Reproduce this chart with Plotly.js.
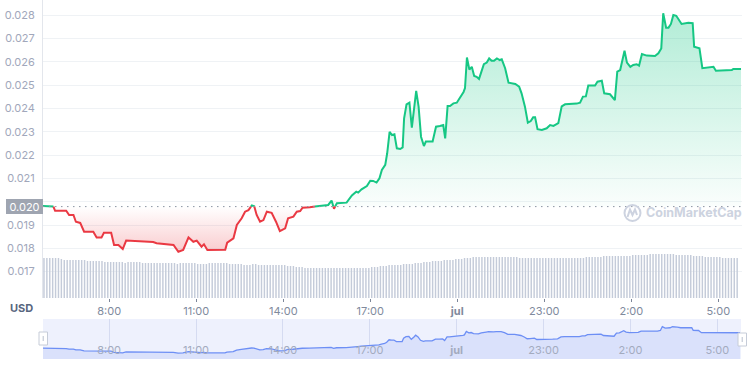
<!DOCTYPE html>
<html><head><meta charset="utf-8">
<script src="https://cdn.plot.ly/plotly-3.0.1.min.js"></script>
<style>html,body{margin:0;padding:0;background:#fff}#chart{width:756px;height:367px}</style>
</head><body><div id="chart"></div>
<script>
// ---------- data ----------
const day1 = '2022-06-30';
const day2 = '2022-07-01';
const timesDay1 = ['05:43','06:04','06:08','06:31','06:37','06:46','06:51','07:00','07:08','07:27',
'07:34','07:44','07:49','08:04','08:10','08:19','08:28','08:35','09:04','09:31',
'09:38','10:13','10:23','10:33','10:44','10:54','11:01','11:11','11:16','11:23',
'12:00','12:04','12:17','12:24','12:34','12:41','12:48','12:55','13:00','13:05',
'13:12','13:19','13:26','13:36','13:45','13:53','14:04','14:10','14:21','14:28',
'14:35','14:40','14:55','15:16','15:33','15:40','15:45','15:51','16:11','16:22',
'16:31','16:35','16:42','16:53','17:00','17:06','17:13','17:19','17:24','17:31',
'17:35','17:40','17:45','17:50','17:55','18:02','18:07','18:10','18:15','18:21',
'18:26','18:31','18:35','18:40','18:45','18:51','18:55','19:09','19:16','19:24',
'19:31','19:35','19:40','19:45','19:52','19:59','20:06','20:13','20:16','20:20',
'20:25','20:30','20:35','20:40','20:45','20:51','20:55','21:01','21:06','21:11',
'21:16','21:22','21:28','21:32','21:39','21:46','22:00','22:08','22:13','22:20',
'22:26','22:32','22:37','22:41','22:46','22:55','23:05','23:12','23:19','23:29',
'23:36','23:43','23:53'];
const timesDay2 = ['00:07','00:14','00:20','00:26','00:31','00:45','00:50','00:59','01:04','01:16',
'01:26','01:31','01:37','01:46','01:51','01:58','02:04','02:11','02:16','02:22',
'02:32','02:49','02:56','03:02','03:06','03:12','03:17','03:22','03:27','03:33',
'03:37','03:44','03:58','04:07','04:10','04:21','04:27','04:36','04:50','04:55',
'05:07','05:28','05:31','05:47'];
const prices = [0.01982,0.01982,0.01961,0.01961,0.01943,0.01943,0.01914,0.01909,0.01871,0.01871,
0.01846,0.01846,0.01867,0.01867,0.01814,0.01814,0.01797,0.01833,0.01831,0.01827,
0.01822,0.01814,0.01785,0.01793,0.01847,0.01828,0.01833,0.01807,0.01817,0.01793,
0.01794,0.01824,0.01843,0.01900,0.01929,0.01957,0.01964,0.01984,0.01980,0.01943,
0.01914,0.01921,0.01957,0.01952,0.01914,0.01874,0.01886,0.01929,0.01936,0.01957,
0.01960,0.01974,0.01976,0.01982,0.01986,0.02005,0.01970,0.01993,0.01996,0.02027,
0.02043,0.02039,0.02053,0.02067,0.02090,0.02089,0.02082,0.02100,0.02136,0.02158,
0.02208,0.02300,0.02286,0.02289,0.02229,0.02226,0.02233,0.02358,0.02418,0.02425,
0.02318,0.02401,0.02476,0.02408,0.02279,0.02239,0.02258,0.02258,0.02322,0.02325,
0.02329,0.02272,0.02411,0.02411,0.02422,0.02425,0.02447,0.02471,0.02488,0.02619,
0.02567,0.02579,0.02540,0.02536,0.02527,0.02565,0.02590,0.02597,0.02615,0.02605,
0.02605,0.02615,0.02608,0.02611,0.02573,0.02511,0.02505,0.02494,0.02465,0.02408,
0.02339,0.02346,0.02362,0.02362,0.02311,0.02308,0.02315,0.02329,0.02325,0.02337,
0.02409,0.02418,0.02418,0.02421,0.02425,0.02451,0.02452,0.02499,0.02499,0.02515,
0.02519,0.02465,0.02461,0.02436,0.02558,0.02565,0.02648,0.02597,0.02579,0.02587,
0.02590,0.02584,0.02634,0.02627,0.02625,0.02637,0.02658,0.02809,0.02747,0.02747,
0.02763,0.02801,0.02798,0.02787,0.02763,0.02768,0.02766,0.02665,0.02658,0.02573,
0.02575,0.02579,0.02562,0.02562,0.02565,0.02570,0.02570];
const baseline = 0.01979;
const baselineText = '0.020';
const volumeStart = '2022-06-30 05:45';
const volumeStepMinutes = 6;
const volumes = [
40,40,40,40,40,40,39,38,38,38,38,38,38,38,38,37,37,37,37,37,
37,36,36,36,36,36,36,36,35,36,36,36,36,36,35,35,35,35,35,35,
35,35,35,35,35,35,34,35,35,35,35,35,35,34,34,34,34,35,35,35,
35,35,35,35,34,34,34,34,34,33,33,33,34,34,33,33,33,33,33,33,
33,33,33,33,32,32,32,31,31,31,30,30,30,30,30,30,30,30,30,30,
30,30,30,30,30,30,30,30,30,30,30,30,30,31,31,31,32,32,32,33,
33,33,33,33,34,34,34,34,35,35,35,36,36,36,37,37,37,37,38,38,
38,38,39,39,39,40,40,40,41,41,41,41,41,41,41,41,41,41,41,41,
41,41,41,41,40,40,40,40,40,40,40,40,40,40,40,40,40,40,40,40,
40,40,40,40,40,40,40,41,41,41,41,41,41,42,42,42,42,42,42,42,
42,42,42,43,43,43,43,43,43,44,44,44,44,44,44,44,44,44,43,43,
43,43,43,43,42,42,42,42,41,41,41,41,41,41,40,40,40,40,40,40];
const tickTimes = ['2022-06-30 08:00','2022-06-30 11:00','2022-06-30 14:00','2022-06-30 17:00',
'2022-06-30 20:00','2022-06-30 23:00','2022-07-01 02:00','2022-07-01 05:00'];
const tickLabels = ['8:00','11:00','14:00','17:00','<b>jul</b>','23:00','2:00','5:00'];
const yTicks = [0.017,0.018,0.019,0.020,0.021,0.022,0.023,0.024,0.025,0.026,0.027,0.028];
const xRange = ['2022-06-30 05:43','2022-07-01 05:49'];
const yRange = [0.015867, 0.028657];
const navRange = [0.0156, 0.0310];

// ---------- build ----------
const ms = s => Date.parse(s.replace(' ', 'T') + ':00Z');
const times = timesDay1.map(t => ms(day1 + ' ' + t)).concat(timesDay2.map(t => ms(day2 + ' ' + t)));
const volTimes = volumes.map((v, i) => ms(volumeStart) + i * volumeStepMinutes * 60000);
// the tick under the baseline box is covered by the box in the reference
const yTickText = yTicks.map(v => v.toFixed(3) === baselineText ? '' : v.toFixed(3));

// add baseline crossing points so line colour / fill switch exactly at the baseline
const X = [], Y = [];
for (let i = 0; i < prices.length; i++) {
  X.push(times[i]); Y.push(prices[i]);
  if (i < prices.length - 1) {
    const a = prices[i] - baseline, b = prices[i + 1] - baseline;
    if (a * b < 0) {
      const f = a / (a - b);
      X.push(times[i] + f * (times[i + 1] - times[i])); Y.push(baseline);
    }
  }
}
const up = Y.map(v => Math.max(v, baseline));
const dn = Y.map(v => Math.min(v, baseline));
const gLine = Y.map(v => v >= baseline ? v : null);
const rLine = Y.map(v => v <= baseline ? v : null);
const base = Y.map(() => baseline);
const pMax = Math.max(...prices), pMin = Math.min(...prices);

const GREEN = '#16c784', RED = '#ea3943';
const traces = [
  {type:'bar', x: volTimes, y: volumes, xaxis:'x', yaxis:'y2', marker:{color:'#c4cbd9', line:{width:0}},
   width: volumeStepMinutes * 60000 * 0.5, hoverinfo:'skip'},
  {type:'scatter', mode:'lines', x: X, y: base, line:{width:0, color:'rgba(0,0,0,0)'}, hoverinfo:'skip'},
  {type:'scatter', mode:'lines', x: X, y: up, line:{width:0, color:'rgba(0,0,0,0)'}, fill:'tonexty',
   fillgradient:{type:'vertical', start: baseline, stop: pMax,
     colorscale:[[0,'rgba(22,199,132,0.02)'],[1,'rgba(22,199,132,0.33)']]}, hoverinfo:'skip'},
  {type:'scatter', mode:'lines', x: X, y: base, line:{width:0, color:'rgba(0,0,0,0)'}, hoverinfo:'skip'},
  {type:'scatter', mode:'lines', x: X, y: dn, line:{width:0, color:'rgba(0,0,0,0)'}, fill:'tonexty',
   fillgradient:{type:'vertical', start: pMin, stop: baseline,
     colorscale:[[0,'rgba(234,57,67,0.26)'],[1,'rgba(234,57,67,0.0)']]}, hoverinfo:'skip'},
  {type:'scatter', mode:'lines', x: X, y: gLine, line:{color: GREEN, width:2}, connectgaps:false},
  {type:'scatter', mode:'lines', x: X, y: rLine, line:{color: RED, width:2}, connectgaps:false},
  {type:'scatter', mode:'lines', x: times, y: prices, xaxis:'x2', yaxis:'y3',
   line:{color:'#6d8ff5', width:1.3}, fill:'tozeroy', fillcolor:'#dae1fb'}
];

const pxX = p => (p - 43) / 699;
const pxY = p => (359 - p) / 359;
const mainDomain = [pxY(298), 1];
const navDomain = [0, pxY(319)];

const axisFont = {family:'Inter, sans-serif', size:11, color:'#808a9d'};
const layout = {
  width:756, height:367, margin:{l:43, r:14, t:0, b:8},
  paper_bgcolor:'#ffffff', plot_bgcolor:'rgba(0,0,0,0)', showlegend:false,
  font:{family:'Inter, sans-serif', size:11, color:'#808a9d'},
  xaxis:{type:'date', range: xRange.map(ms), domain:[0,1], anchor:'y',
    tickmode:'array', tickvals: tickTimes.map(ms), ticktext: tickLabels,
    ticks:'outside', ticklen:3, tickcolor:'#7d8699', showgrid:false, zeroline:false, showline:false,
    tickfont: axisFont},
  yaxis:{domain: mainDomain, range: yRange, tickmode:'array', tickvals: yTicks, ticktext: yTickText,
    showgrid:true, gridcolor:'#eff2f5', gridwidth:1, zeroline:false,
    showline:true, linecolor:'#e3e6ec', linewidth:1,
    ticks:'outside', ticklen:5, tickcolor:'rgba(0,0,0,0)',
    tickfont:{family:'Inter, sans-serif', size:11, color:'#a1a7bb'}},
  yaxis2:{overlaying:'y', range:[0, 298], visible:false, fixedrange:true},
  xaxis2:{type:'date', range: xRange.map(ms), anchor:'y3', domain:[0, pxX(741)],
    tickmode:'array', tickvals: tickTimes.map(ms), ticktext: tickLabels,
    ticklabelposition:'inside', ticks:'', showgrid:true, gridcolor:'#d5dbf1',
    zeroline:false, showline:false,
    tickfont:{family:'Inter, sans-serif', size:11, color:'#a3abbf'}},
  yaxis3:{domain: navDomain, range: navRange, visible:false},
  shapes:[
    {type:'rect', xref:'paper', yref:'paper', x0:0, x1:pxX(741), y0:0, y1:pxY(319),
     fillcolor:'#eef1fd', line:{width:0}, layer:'below'},
    {type:'line', xref:'paper', yref:'y', x0:0, x1:1, y0:baseline, y1:baseline,
     line:{color:'#8d94a3', width:1, dash:'1.5px,4.5px'}},
    {type:'rect', xref:'paper', yref:'paper', x0:pxX(39), x1:pxX(47.5), y0:pxY(345), y1:pxY(332),
     fillcolor:'#ffffff', line:{color:'#c6ccd8', width:1}},
    {type:'line', xref:'paper', yref:'paper', x0:pxX(43.2), x1:pxX(43.2), y0:pxY(341), y1:pxY(336),
     line:{color:'#b9c0ce', width:1}},
    {type:'rect', xref:'paper', yref:'paper', x0:pxX(738), x1:pxX(746.5), y0:pxY(346), y1:pxY(333),
     fillcolor:'#ffffff', line:{color:'#c6ccd8', width:1}},
    {type:'line', xref:'paper', yref:'paper', x0:pxX(742.2), x1:pxX(742.2), y0:pxY(342), y1:pxY(337),
     line:{color:'#b9c0ce', width:1}},
    {type:'circle', xref:'paper', yref:'paper', x0:pxX(624.5), x1:pxX(640.5), y0:pxY(221), y1:pxY(205),
     line:{color:'#cdd3e0', width:2}},
    {type:'path', xref:'paper', yref:'paper',
     path:'M '+pxX(627.5)+' '+pxY(217)+' L '+pxX(630)+' '+pxY(209.5)+' L '+pxX(632.5)+' '+pxY(215)+
          ' L '+pxX(635)+' '+pxY(209.5)+' L '+pxX(637)+' '+pxY(215),
     line:{color:'#cdd3e0', width:2}}
  ],
  annotations:[
    {xref:'paper', yref:'y', x:0, y:baseline, xanchor:'right', yanchor:'middle', showarrow:false,
     text: baselineText, bgcolor:'#9fa5b1', bordercolor:'#9fa5b1', borderwidth:1, borderpad:1,
     width:33, height:11, font:{family:'Inter, sans-serif', size:11, color:'#ffffff'}},
    {xref:'paper', yref:'paper', x:pxX(21.5), y:pxY(308), xanchor:'center', yanchor:'middle', showarrow:false,
     text:'<b>USD</b>', font:{family:'Inter, sans-serif', size:11, color:'#58667e'}},
    {xref:'paper', yref:'paper', x:pxX(644), y:pxY(213), xanchor:'left', yanchor:'middle', showarrow:false,
     text:'<b>CoinMarketCap</b>', font:{family:'Inter, sans-serif', size:12.5, color:'#cdd3e0'}}
  ]
};

Plotly.newPlot('chart', traces, layout, {staticPlot:true, displayModeBar:false});
</script>
</body></html>
